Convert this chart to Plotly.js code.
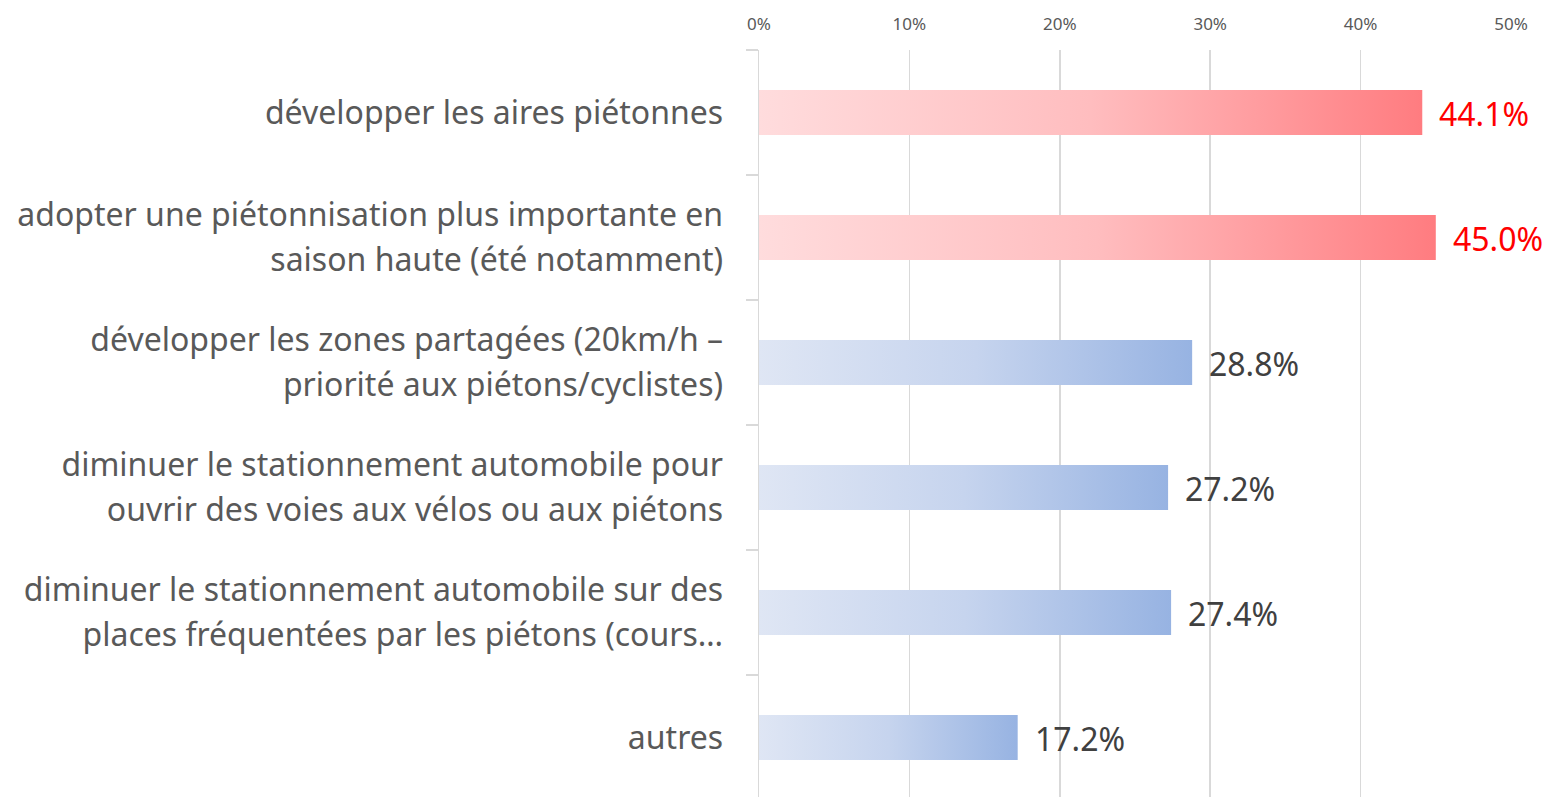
<!DOCTYPE html>
<html><head><meta charset="utf-8">
<script src="https://cdn.plot.ly/plotly-3.0.1.min.js"></script>
<style>html,body{margin:0;padding:0;background:#fff}#chart{width:1551px;height:797px}</style>
</head><body><div id="chart"></div>
<script>
// Data
const categoryLines = [
  ["développer les aires piétonnes"],
  ["adopter une piétonnisation plus importante en", "saison haute (été notamment)"],
  ["développer les zones partagées (20km/h –", "priorité aux piétons/cyclistes)"],
  ["diminuer le stationnement automobile pour", "ouvrir des voies aux vélos ou aux piétons"],
  ["diminuer le stationnement automobile sur des", "places fréquentées par les piétons (cours…"],
  ["autres"]
];
const values = [44.1, 45.0, 28.8, 27.2, 27.4, 17.2];
const highlighted = [true, true, false, false, false, false];
const xTickVals = [0, 10, 20, 30, 40, 50];
const xTickText = ["0%", "10%", "20%", "30%", "40%", "50%"];

const FONT = "Noto Sans";
const halfBar = 0.18;
const lineOffset = 0.18;
const redScale = [[0, '#FFDCDD'], [0.5, '#FFBDBF'], [1, '#FF7C80']];
const blueScale = [[0, '#DFE6F4'], [0.5, '#C6D4EE'], [1, '#97B3E2']];

const traces = [];
values.forEach((v, i) => {
  traces.push({
    type: 'scatter', mode: 'lines',
    x: [0, v, v, 0, 0],
    y: [i - halfBar, i - halfBar, i + halfBar, i + halfBar, i - halfBar],
    fill: 'toself',
    fillgradient: {type: 'horizontal', colorscale: highlighted[i] ? redScale : blueScale},
    line: {width: 0, color: 'rgba(0,0,0,0)'},
    hoverinfo: 'skip', showlegend: false
  });
});
// boundary tick trace on second y axis
traces.push({type: 'scatter', x: [null], y: [null], yaxis: 'y2', showlegend: false, hoverinfo: 'skip'});

const annotations = values.map((v, i) => ({
  x: v, y: i, xref: 'x', yref: 'y',
  text: v.toFixed(1) + '%', showarrow: false,
  xanchor: 'left', yanchor: 'middle', xshift: 15, yshift: -1,
  font: {family: FONT, size: 32, color: highlighted[i] ? '#FF0000' : '#404040'}
}));

const yTickVals = [], yTickText = [];
categoryLines.forEach((lines, i) => {
  if (lines.length === 1) { yTickVals.push(i); yTickText.push(lines[0]); }
  else { yTickVals.push(i - lineOffset); yTickText.push(lines[0]); yTickVals.push(i + lineOffset); yTickText.push(lines[1]); }
});
const boundaries = [];
for (let i = 0; i <= categoryLines.length; i++) boundaries.push(i - 0.5);

const yRange = [-0.5 + 747 / 125, -0.5];

const layout = {
  width: 1551, height: 797,
  margin: {l: 759, r: 40, t: 50, b: 0},
  paper_bgcolor: '#ffffff', plot_bgcolor: '#ffffff',
  xaxis: {
    side: 'top', range: [0, 50], tickmode: 'array', tickvals: xTickVals, ticktext: xTickText,
    showgrid: true, gridcolor: '#D9D9D9', gridwidth: 1.5, zeroline: false,
    showline: false, ticks: '', ticklabelstandoff: 16,
    tickfont: {family: FONT, size: 17, color: '#595959'},
    fixedrange: true
  },
  yaxis: {
    range: yRange, tickmode: 'array', tickvals: yTickVals, ticktext: yTickText,
    showgrid: false, zeroline: false, showline: true, linecolor: '#D9D9D9', linewidth: 1.5,
    ticks: '', ticklabelstandoff: 28,
    tickfont: {family: FONT, size: 32, color: '#595959'}, fixedrange: true
  },
  yaxis2: {
    overlaying: 'y', side: 'left', range: yRange, tickmode: 'array', tickvals: boundaries,
    showticklabels: false, ticks: 'outside', ticklen: 12, tickcolor: '#D9D9D9', tickwidth: 1.5,
    showgrid: false, zeroline: false, showline: false, fixedrange: true
  },
  annotations: annotations,
  showlegend: false
};
Plotly.newPlot('chart', traces, layout, {displayModeBar: false, staticPlot: true});
</script>
</body></html>
